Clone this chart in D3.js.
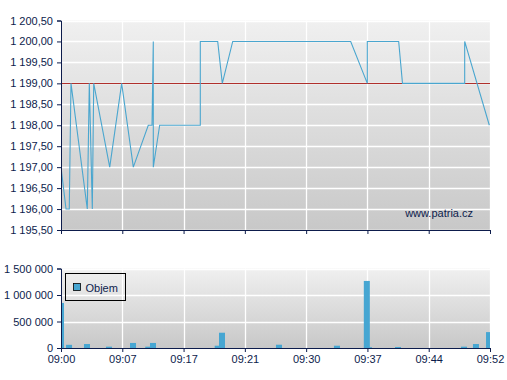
<!DOCTYPE html>
<html>
<head>
<meta charset="utf-8">
<script src="https://d3js.org/d3.v7.min.js"></script>
<style>
  body { margin: 0; background: #fff; }
  text { font-family: "Liberation Sans", Arial, sans-serif; font-size: 11px; fill: #0d1c4c; }
  .axis path, .axis line { stroke: #0d1c4c; }
</style>
</head>
<body>
<svg id="chart" width="507" height="380"></svg>
<script>
// x = poradi obchodu (slot), 70 slotu, popisek kazdych 10
var tickPos = [0, 10, 20, 30, 40, 50, 60, 70];
var tickLabels = ["09:00", "09:07", "09:17", "09:21", "09:30", "09:37", "09:44", "09:52"];

// cena
var priceX = [0, 0.82, 1.35, 1.63, 4.29, 4.62, 5.11, 5.34, 7.95, 9.9, 11.8, 14.24, 14.85, 15.06, 15.06,
              16.1, 22.73, 22.73, 25.57, 26.32, 28.02, 47.27, 49.98, 49.98, 55.1, 55.72, 65.87, 65.87, 69.89];
var priceY = [1197, 1196, 1196, 1199, 1196, 1199, 1196, 1199, 1197, 1199, 1197, 1198, 1198, 1200, 1197,
              1198, 1198, 1200, 1200, 1199, 1200, 1200, 1199, 1200, 1200, 1199, 1199, 1200, 1198];
var prevClose = 1199;

// objem
var volX = [0, 1.31, 4.24, 7.83, 11.75, 14.24, 15.01, 25.57, 26.27, 35.57, 45.03, 50.25, 49.9, 54.99, 65.76, 67.71, 69.84];
var volY = [850000, 60000, 75000, 25000, 95000, 25000, 95000, 43000, 288000, 62000, 43000, 15000, 1265000, 19000, 25000, 75000, 300000];

var svg = d3.select("#chart"),
    left = 61, right = 490;

var loc = d3.formatLocale({decimal: ",", thousands: "\u00a0", grouping: [3], currency: ["", ""]});
var fmtPrice = loc.format(",.2f"),
    fmtVol = loc.format(",d");

var x = d3.scaleLinear().domain([0, 70]).range([left, right]);

var defs = svg.append("defs");
var grad = defs.append("linearGradient")
    .attr("id", "bg").attr("x1", 0).attr("y1", 0).attr("x2", 0).attr("y2", 1);
grad.append("stop").attr("offset", "0%").attr("stop-color", "#f0f0f0");
grad.append("stop").attr("offset", "100%").attr("stop-color", "#c8c8c8");

function panel(top, bottom, yScale, yTicks, id) {
  var g = svg.append("g");
  g.append("rect")
      .attr("x", left).attr("y", top)
      .attr("width", right - left).attr("height", bottom - top)
      .attr("fill", "url(#bg)");
  defs.append("clipPath").attr("id", id)
    .append("rect")
      .attr("x", left).attr("y", top)
      .attr("width", right - left).attr("height", bottom - top);
  // mrizka
  g.selectAll(".hg").data(yTicks).enter().append("line")
      .attr("x1", left).attr("x2", right)
      .attr("y1", function(d) { return Math.round(yScale(d)) + 0.5; })
      .attr("y2", function(d) { return Math.round(yScale(d)) + 0.5; })
      .attr("stroke", "#fff").attr("stroke-width", 1.3);
  g.selectAll(".vg").data(tickPos.slice(1)).enter().append("line")
      .attr("x1", function(d) { return Math.round(x(d)) + 0.5; })
      .attr("x2", function(d) { return Math.round(x(d)) + 0.5; })
      .attr("y1", top).attr("y2", bottom)
      .attr("stroke", "#fff").attr("stroke-width", 1.3);
  return g;
}

// horni graf - cena
var pTop = 20.5, pBottom = 230;
var y = d3.scaleLinear().domain([1195.5, 1200.5]).range([pBottom, pTop]);
var yTicks = d3.range(1195.5, 1200.51, 0.5);
var gp = panel(pTop, pBottom, y, yTicks, "clipP");

gp.append("line")
    .attr("x1", left).attr("x2", right)
    .attr("y1", Math.round(y(prevClose)) + 0.5).attr("y2", Math.round(y(prevClose)) + 0.5)
    .attr("stroke", "#b0302c").attr("stroke-width", 1);

var line = d3.line()
    .x(function(d) { return x(priceX[d]); })
    .y(function(d) { return y(priceY[d]); });
gp.append("path")
    .datum(d3.range(priceX.length))
    .attr("clip-path", "url(#clipP)")
    .attr("d", line)
    .attr("fill", "none")
    .attr("stroke", "#4aa6cf")
    .attr("stroke-width", 1.1);

gp.append("text")
    .attr("x", 473).attr("y", 217)
    .attr("text-anchor", "end")
    .text("www.patria.cz");

svg.append("g")
    .attr("class", "axis")
    .attr("transform", "translate(" + left + ",0)")
    .call(d3.axisLeft(y).tickValues(yTicks).tickSizeOuter(0).tickSize(4).tickPadding(4)
      .tickFormat(function(d) { return fmtPrice(d).replace(/\u00a0/g, " "); }));
svg.append("g")
    .attr("class", "axis")
    .attr("transform", "translate(0," + pBottom + ")")
    .call(d3.axisBottom(x).tickValues(tickPos).tickSizeOuter(0).tickSize(4).tickFormat(""));

// dolni graf - objem
var vTop = 268.5, vBottom = 348;
var yv = d3.scaleLinear().domain([0, 1500000]).range([vBottom, vTop]);
var yvTicks = [0, 500000, 1000000, 1500000];
var gv = panel(vTop, vBottom, yv, yvTicks.slice(1), "clipV");

var bw = x(0.98) - x(0);
gv.append("g")
    .attr("clip-path", "url(#clipV)")
  .selectAll("rect").data(volX).enter().append("rect")
    .attr("x", function(d) { return x(d) - bw / 2; })
    .attr("y", function(d, i) { return yv(volY[i]); })
    .attr("width", bw)
    .attr("height", function(d, i) { return vBottom - yv(volY[i]); })
    .attr("fill", "#46a6d2");

// legenda
var lg = svg.append("g").attr("transform", "translate(65.5,273.5)");
lg.append("rect")
    .attr("width", 60).attr("height", 27)
    .attr("fill", "none").attr("stroke", "#000").attr("stroke-width", 1);
lg.append("rect")
    .attr("x", 8).attr("y", 10).attr("width", 7).attr("height", 7)
    .attr("fill", "#46a6d2").attr("stroke", "#000").attr("stroke-width", 0.8);
lg.append("text").attr("x", 20).attr("y", 18).text("Objem");

svg.append("g")
    .attr("class", "axis")
    .attr("transform", "translate(" + left + ",0)")
    .call(d3.axisLeft(yv).tickValues(yvTicks).tickSizeOuter(0).tickSize(4).tickPadding(4)
      .tickFormat(function(d) { return fmtVol(d).replace(/\u00a0/g, " "); }));
svg.append("g")
    .attr("class", "axis")
    .attr("transform", "translate(0," + vBottom + ")")
    .call(d3.axisBottom(x).tickValues(tickPos).tickSizeOuter(0).tickSize(4).tickPadding(3)
      .tickFormat(function(d, i) { return tickLabels[i]; }));

svg.selectAll(".axis text").style("font-size", "11px").style("font-family", "'Liberation Sans', Arial, sans-serif").attr("fill", "#0d1c4c");
</script>
</body>
</html>
